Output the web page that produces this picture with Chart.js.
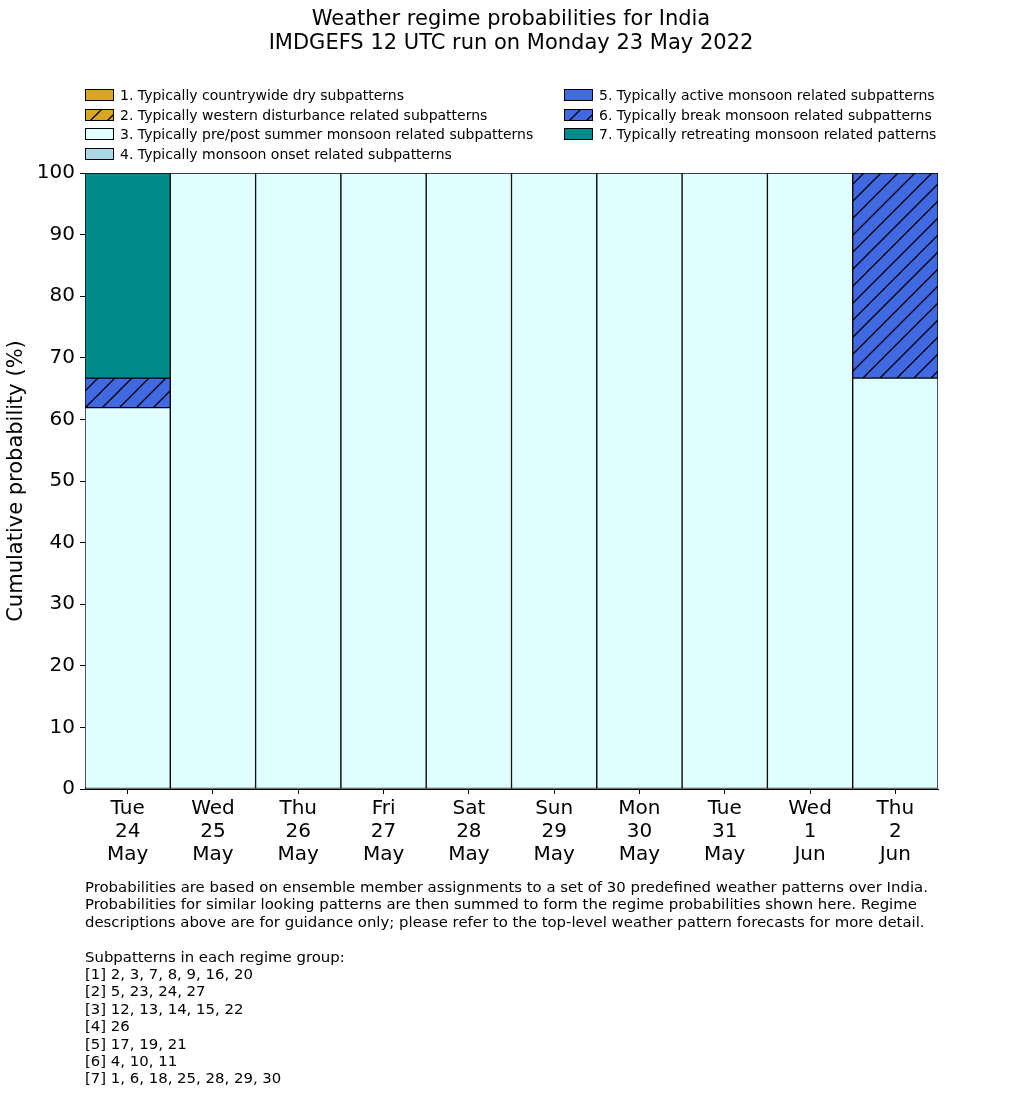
<!DOCTYPE html>
<html>
<head>
<meta charset="utf-8">
<script src="https://cdn.jsdelivr.net/npm/chart.js@4/dist/chart.umd.min.js"></script>
<style>
  html, body { margin:0; padding:0; background:#fff; }
  body { width:1033px; height:1114px; position:relative; font-family:"DejaVu Sans", sans-serif; color:#000; overflow:hidden; }
  #c { position:absolute; left:0; top:0; }
  #title { position:absolute; left:0; width:1022px; top:6px; text-align:center; font-size:21px; line-height:24px; }
  .leg { position:absolute; font-size:14px; line-height:16px; white-space:nowrap; }
  .leg canvas { position:absolute; left:0; top:2px; }
  .leg span { position:absolute; left:35px; top:0; }
  #foot { position:absolute; left:85px; top:879px; font-size:14.9px; line-height:17.4px; white-space:pre; }
</style>
</head>
<body>
<canvas id="c" width="1033" height="1114"></canvas>
<div id="title">Weather regime probabilities for India<br>IMDGEFS 12 UTC run on Monday 23 May 2022</div>
<div id="legend"></div>
<div id="foot"></div>
<script>
// ---- data ----
const categories = [["Tue","24","May"],["Wed","25","May"],["Thu","26","May"],["Fri","27","May"],["Sat","28","May"],["Sun","29","May"],["Mon","30","May"],["Tue","31","May"],["Wed","1","Jun"],["Thu","2","Jun"]];
const regimeNames = [
  "1. Typically countrywide dry subpatterns",
  "2. Typically western disturbance related subpatterns",
  "3. Typically pre/post summer monsoon related subpatterns",
  "4. Typically monsoon onset related subpatterns",
  "5. Typically active monsoon related subpatterns",
  "6. Typically break monsoon related subpatterns",
  "7. Typically retreating monsoon related patterns"
];
const dry       = [0, 0, 0, 0, 0, 0, 0, 0, 0, 0];
const westDist  = [0, 0, 0, 0, 0, 0, 0, 0, 0, 0];
const prePost   = [61.9, 100, 100, 100, 100, 100, 100, 100, 100, 66.7];
const onset     = [0, 0, 0, 0, 0, 0, 0, 0, 0, 0];
const active    = [0, 0, 0, 0, 0, 0, 0, 0, 0, 0];
const breakMon  = [4.8, 0, 0, 0, 0, 0, 0, 0, 0, 33.3];
const retreat   = [33.3, 0, 0, 0, 0, 0, 0, 0, 0, 0];
const yTicks = [0,10,20,30,40,50,60,70,80,90,100];
const footText = [
  "Probabilities are based on ensemble member assignments to a set of 30 predefined weather patterns over India.",
  "Probabilities for similar looking patterns are then summed to form the regime probabilities shown here. Regime",
  "descriptions above are for guidance only; please refer to the top-level weather pattern forecasts for more detail.",
  "",
  "Subpatterns in each regime group:",
  "[1] 2, 3, 7, 8, 9, 16, 20",
  "[2] 5, 23, 24, 27",
  "[3] 12, 13, 14, 15, 22",
  "[4] 26",
  "[5] 17, 19, 21",
  "[6] 4, 10, 11",
  "[7] 1, 6, 18, 25, 28, 29, 30"
];

const seriesValues = [dry, westDist, prePost, onset, active, breakMon, retreat];
const colors = ["#DAA520", "#DAA520", "#E0FFFF", "#ADD8E6", "#4169E1", "#4169E1", "#008B8B"];
const hatched = [false, true, false, false, false, true, false];

function hatchPattern(ctx, color) {
  const s = 17;
  const t = document.createElement("canvas");
  t.width = s; t.height = s;
  const g = t.getContext("2d");
  g.fillStyle = color; g.fillRect(0, 0, s, s);
  g.strokeStyle = "#000"; g.lineWidth = 1.3;
  g.beginPath();
  g.moveTo(-2, s + 2); g.lineTo(s + 2, -2);
  g.moveTo(-2, 2); g.lineTo(2, -2);
  g.moveTo(s - 2, s + 2); g.lineTo(s + 2, s - 2);
  g.stroke();
  return ctx.createPattern(t, "repeat");
}

const ctx = document.getElementById("c").getContext("2d");
const datasets = seriesValues.map((vals, i) => ({
  label: regimeNames[i],
  data: vals.map(v => v === 0 ? null : v),
  backgroundColor: hatched[i] ? hatchPattern(ctx, colors[i]) : colors[i],
  borderColor: "#000",
  borderWidth: 1,
  borderSkipped: false,
  barPercentage: 1.0,
  categoryPercentage: 1.0
}));

// ---- legend (HTML) ----
const legend = document.getElementById("legend");
const legPos = [[85,87],[85,106.5],[85,126],[85,145.5],[564,87],[564,106.5],[564,126]];
regimeNames.forEach((name, i) => {
  const d = document.createElement("div");
  d.className = "leg";
  d.style.left = legPos[i][0] + "px";
  d.style.top = legPos[i][1] + "px";
  const sw = document.createElement("canvas");
  sw.width = 29; sw.height = 12;
  const sctx = sw.getContext("2d");
  sctx.fillStyle = hatched[i] ? hatchPattern(sctx, colors[i]) : colors[i];
  sctx.fillRect(0, 0, 29, 12);
  sctx.strokeStyle = "#000"; sctx.lineWidth = 1;
  sctx.strokeRect(0.5, 0.5, 28, 11);
  d.appendChild(sw);
  const sp = document.createElement("span");
  sp.textContent = name;
  d.appendChild(sp);
  legend.appendChild(d);
});
document.getElementById("foot").textContent = footText.join("\n");

Chart.defaults.font.family = "'DejaVu Sans', sans-serif";
Chart.defaults.color = "#000";

new Chart(ctx, {
  type: "bar",
  data: { labels: categories, datasets },
  options: {
    responsive: false,
    animation: false,
    devicePixelRatio: 1,
    layout: { padding: { top: 173, right: 95, left: 0, bottom: 0 } },
    plugins: { legend: { display: false }, tooltip: { enabled: false }, title: { display: false } },
    scales: {
      x: {
        stacked: true,
        offset: true,
        afterFit: s => { s.height = 1114 - 789; },
        grid: { offset: false, drawOnChartArea: false, drawTicks: true, tickLength: 5, color: "#000" },
        border: { display: true, color: "#000", width: 1 },
        ticks: { font: { size: 20, lineHeight: 1.15 }, padding: 3, maxRotation: 0, autoSkip: false, color: "#000" }
      },
      y: {
        stacked: true,
        min: 0, max: 100,
        afterFit: s => { s.width = 85; },
        afterBuildTicks: s => { s.ticks = yTicks.map(v => ({ value: v })); },
        grid: { drawOnChartArea: false, drawTicks: true, tickLength: 5, color: "#000" },
        border: { display: true, color: "#000", width: 1 },
        ticks: { font: { size: 20 }, padding: 5, color: "#000" },
        title: { display: true, text: "Cumulative probability (%)", font: { size: 21 }, padding: { top: 4, bottom: 2 }, color: "#000" }
      }
    }
  }
});
</script>
</body>
</html>
